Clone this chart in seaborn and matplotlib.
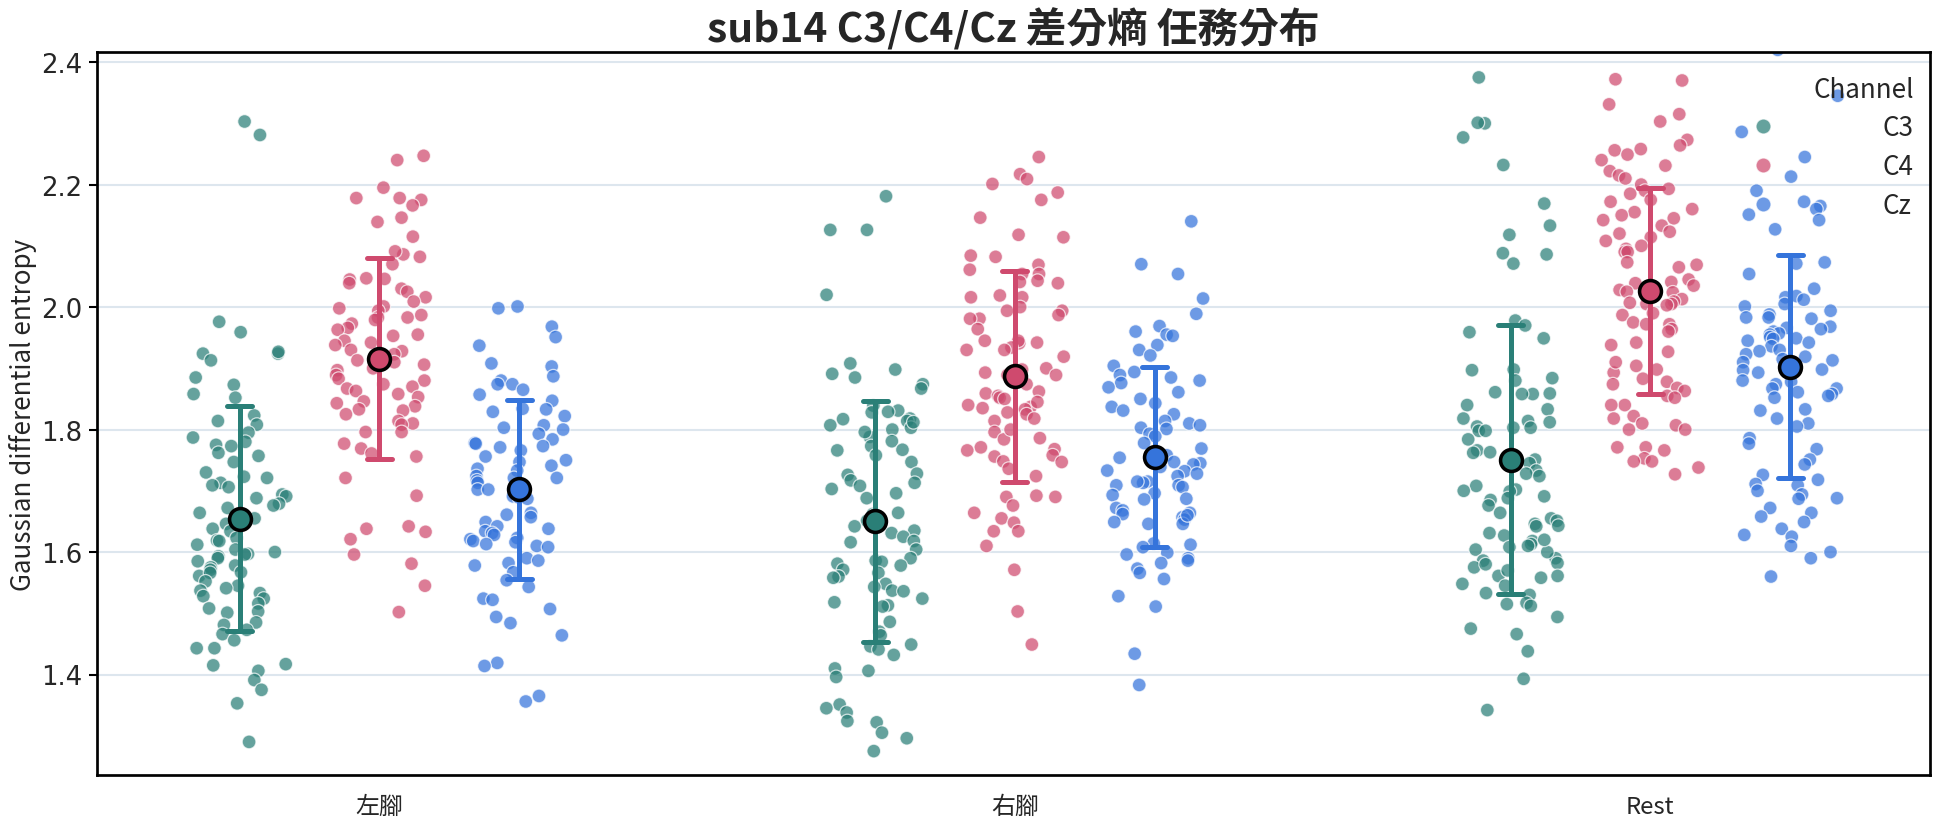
import numpy as np
import pandas as pd
import matplotlib
matplotlib.use("Agg")
import matplotlib.pyplot as plt
from matplotlib.lines import Line2D
from matplotlib import font_manager
import seaborn as sns

# ---------------- data ----------------
tasks = ["左腳", "右腳", "Rest"]
channels = ["C3", "C4", "Cz"]
colors = ["#2a7f77", "#cf4a6e", "#3574db"]
yticks = [1.4, 1.6, 1.8, 2.0, 2.2, 2.4]

left_c3 = [2.303, 2.281, 1.976, 1.959, 1.924, 1.927, 1.924, 1.913, 1.885, 1.873, 1.858, 1.852,
           1.823, 1.814, 1.808, 1.795, 1.787, 1.780, 1.775, 1.773, 1.762, 1.757, 1.747, 1.730,
           1.723, 1.721, 1.713, 1.709, 1.706, 1.694, 1.691, 1.688, 1.679, 1.676, 1.672, 1.664,
           1.655, 1.649, 1.646, 1.638, 1.634, 1.623, 1.619, 1.618, 1.604, 1.600, 1.597, 1.593,
           1.590, 1.578, 1.575, 1.571, 1.567, 1.561, 1.545, 1.541, 1.533, 1.524, 1.516, 1.503,
           1.501, 1.485, 1.481, 1.473, 1.466, 1.456, 1.443, 1.443, 1.417, 1.415, 1.406, 1.391,
           1.375, 1.353, 1.290, 1.612, 1.585, 1.566, 1.552, 1.537, 1.528, 1.596, 1.508]
left_c4 = [2.247, 2.240, 2.195, 2.178, 2.178, 2.175, 2.166, 2.146, 2.139, 2.115, 2.086, 2.091,
           2.082, 2.070, 2.047, 2.046, 2.045, 2.039, 2.030, 2.025, 2.016, 2.009, 2.001, 1.998,
           1.994, 1.987, 1.983, 1.983, 1.979, 1.973, 1.966, 1.963, 1.955, 1.953, 1.945, 1.942,
           1.938, 1.930, 1.928, 1.923, 1.921, 1.913, 1.910, 1.906, 1.900, 1.897, 1.889, 1.883,
           1.880, 1.874, 1.870, 1.867, 1.863, 1.858, 1.853, 1.846, 1.843, 1.838, 1.833, 1.831,
           1.825, 1.814, 1.810, 1.808, 1.796, 1.796, 1.777, 1.769, 1.761, 1.756, 1.721, 1.692,
           1.642, 1.633, 1.638, 1.621, 1.596, 1.581, 1.545, 1.502]
left_cz = [2.001, 1.998, 1.968, 1.951, 1.937, 1.908, 1.903, 1.887, 1.880, 1.874, 1.874, 1.865,
           1.857, 1.847, 1.834, 1.833, 1.829, 1.822, 1.807, 1.803, 1.800, 1.793, 1.784, 1.778,
           1.777, 1.773, 1.771, 1.766, 1.756, 1.750, 1.747, 1.741, 1.736, 1.733, 1.724, 1.721,
           1.721, 1.717, 1.713, 1.706, 1.702, 1.702, 1.691, 1.689, 1.687, 1.664, 1.661, 1.657,
           1.649, 1.642, 1.638, 1.634, 1.631, 1.628, 1.623, 1.621, 1.618, 1.616, 1.613, 1.610,
           1.608, 1.590, 1.586, 1.582, 1.578, 1.567, 1.554, 1.543, 1.524, 1.522, 1.507, 1.494,
           1.484, 1.464, 1.419, 1.414, 1.365, 1.356]
right_c3 = [2.181, 2.126, 2.126, 2.020, 1.908, 1.898, 1.891, 1.885, 1.874, 1.867, 1.839, 1.831,
            1.829, 1.828, 1.818, 1.817, 1.814, 1.807, 1.803, 1.800, 1.788, 1.781, 1.773, 1.767,
            1.766, 1.758, 1.747, 1.728, 1.726, 1.717, 1.713, 1.708, 1.703, 1.696, 1.688, 1.664,
            1.662, 1.661, 1.651, 1.642, 1.635, 1.631, 1.625, 1.618, 1.616, 1.604, 1.590, 1.586,
            1.584, 1.581, 1.578, 1.571, 1.566, 1.560, 1.558, 1.548, 1.543, 1.537, 1.536, 1.524,
            1.518, 1.513, 1.511, 1.486, 1.470, 1.464, 1.449, 1.446, 1.441, 1.432, 1.410, 1.406,
            1.396, 1.351, 1.345, 1.338, 1.324, 1.322, 1.305, 1.296, 1.275, 1.812, 1.796]
right_c4 = [2.245, 2.217, 2.209, 2.201, 2.187, 2.175, 2.146, 2.118, 2.114, 2.084, 2.082, 2.069,
            2.061, 2.054, 2.054, 2.043, 2.041, 2.039, 2.019, 2.016, 2.016, 2.000, 1.994, 1.994,
            1.987, 1.981, 1.981, 1.964, 1.945, 1.942, 1.941, 1.945, 1.934, 1.930, 1.930, 1.919,
            1.900, 1.898, 1.893, 1.889, 1.889, 1.874, 1.859, 1.855, 1.852, 1.850, 1.840, 1.837,
            1.835, 1.833, 1.825, 1.818, 1.814, 1.796, 1.786, 1.784, 1.771, 1.768, 1.766, 1.758,
            1.756, 1.748, 1.747, 1.736, 1.724, 1.690, 1.690, 1.692, 1.676, 1.664, 1.655, 1.648,
            1.634, 1.634, 1.610, 1.571, 1.503, 1.449, 1.862, 1.845, 1.828, 1.800]
right_cz = [2.140, 2.070, 2.054, 2.014, 1.989, 1.969, 1.960, 1.955, 1.953, 1.938, 1.930, 1.921,
            1.904, 1.894, 1.889, 1.885, 1.880, 1.876, 1.869, 1.861, 1.850, 1.843, 1.837, 1.831,
            1.825, 1.814, 1.810, 1.807, 1.803, 1.801, 1.793, 1.789, 1.778, 1.769, 1.758, 1.754,
            1.747, 1.745, 1.743, 1.739, 1.733, 1.732, 1.728, 1.724, 1.715, 1.713, 1.709, 1.709,
            1.706, 1.696, 1.693, 1.687, 1.686, 1.672, 1.668, 1.664, 1.662, 1.657, 1.653, 1.649,
            1.646, 1.646, 1.614, 1.612, 1.608, 1.599, 1.596, 1.590, 1.586, 1.582, 1.573, 1.566,
            1.556, 1.528, 1.511, 1.434, 1.383, 1.715, 1.660]
rest_c3 = [2.375, 2.300, 2.301, 2.277, 2.232, 2.169, 2.133, 2.118, 2.088, 2.086, 2.071, 1.978,
           1.970, 1.959, 1.949, 1.897, 1.898, 1.884, 1.880, 1.861, 1.858, 1.859, 1.858, 1.840,
           1.833, 1.818, 1.814, 1.812, 1.805, 1.803, 1.803, 1.798, 1.798, 1.784, 1.766, 1.762,
           1.763, 1.751, 1.745, 1.733, 1.728, 1.724, 1.708, 1.702, 1.700, 1.699, 1.691, 1.688,
           1.685, 1.676, 1.664, 1.655, 1.651, 1.646, 1.643, 1.642, 1.631, 1.627, 1.618, 1.613,
           1.610, 1.608, 1.604, 1.590, 1.586, 1.582, 1.575, 1.561, 1.561, 1.558, 1.548, 1.545,
           1.533, 1.530, 1.517, 1.515, 1.512, 1.494, 1.475, 1.466, 1.438, 1.393, 1.342, 1.600,
           1.580, 1.620, 1.570]
rest_c4 = [2.372, 2.370, 2.331, 2.315, 2.303, 2.273, 2.264, 2.258, 2.256, 2.249, 2.240, 2.231,
           2.222, 2.215, 2.210, 2.200, 2.193, 2.190, 2.175, 2.172, 2.155, 2.150, 2.145, 2.142,
           2.133, 2.123, 2.114, 2.108, 2.095, 2.090, 2.090, 2.073, 2.069, 2.065, 2.045, 2.041,
           2.039, 2.035, 2.031, 2.028, 2.024, 2.025, 2.013, 2.009, 2.007, 2.005, 2.005, 2.003,
           1.990, 1.987, 1.975, 1.972, 1.972, 1.964, 1.960, 1.942, 1.938, 1.927, 1.904, 1.898,
           1.893, 1.910, 1.883, 1.878, 1.874, 1.868, 1.863, 1.855, 1.852, 1.840, 1.840, 1.822,
           1.818, 1.810, 1.807, 1.800, 1.800, 1.771, 1.771, 1.766, 1.753, 1.748, 1.748, 1.738,
           1.727, 2.185, 2.160, 2.120, 2.100]
rest_cz = [2.420, 2.345, 2.286, 2.245, 2.213, 2.190, 2.172, 2.165, 2.160, 2.151, 2.142, 2.127,
           2.073, 2.071, 2.054, 2.030, 2.018, 2.016, 2.012, 2.005, 2.001, 1.994, 1.988, 1.983,
           1.983, 1.981, 1.968, 1.966, 1.964, 1.960, 1.957, 1.955, 1.951, 1.949, 1.948, 1.945,
           1.942, 1.936, 1.930, 1.928, 1.923, 1.919, 1.915, 1.913, 1.910, 1.898, 1.897, 1.893,
           1.880, 1.878, 1.874, 1.867, 1.867, 1.861, 1.858, 1.855, 1.852, 1.833, 1.831, 1.818,
           1.810, 1.805, 1.786, 1.777, 1.768, 1.751, 1.743, 1.726, 1.718, 1.709, 1.711, 1.700,
           1.694, 1.688, 1.687, 1.672, 1.664, 1.658, 1.649, 1.638, 1.628, 1.625, 1.610, 1.600,
           1.590, 1.560]

# ---------------- table ----------------
groups = {
    ("左腳", "C3"): left_c3, ("左腳", "C4"): left_c4, ("左腳", "Cz"): left_cz,
    ("右腳", "C3"): right_c3, ("右腳", "C4"): right_c4, ("右腳", "Cz"): right_cz,
    ("Rest", "C3"): rest_c3, ("Rest", "C4"): rest_c4, ("Rest", "Cz"): rest_cz,
}
rows = []
for t in tasks:
    for c in channels:
        for v in groups[(t, c)]:
            rows.append((t, c, v))
df = pd.DataFrame(rows, columns=["Task", "Channel", "entropy"])
offset = dict(zip(channels, [-0.22, 0.0, 0.22]))
df["pos"] = (df["Task"].map({t: i for i, t in enumerate(tasks)}) + df["Channel"].map(offset)).round(3)

# ---------------- style ----------------
sns.set_style("white")
plt.rcParams["font.family"] = ["Noto Sans CJK TC", "DejaVu Sans"]
plt.rcParams["axes.unicode_minus"] = False

fig, ax = plt.subplots(figsize=(12.96, 5.513), dpi=150)
fig.subplots_adjust(left=0.0497, right=0.9928, bottom=0.0617, top=0.9356)

pt_alpha = 0.72
pt_size = 6.6
np.random.seed(3)
sns.stripplot(data=df, x="pos", y="entropy", hue="Channel", hue_order=channels,
              palette=colors, native_scale=True, orient="x", jitter=0.35,
              size=pt_size, alpha=pt_alpha, edgecolor="white", linewidth=0.6,
              ax=ax, zorder=2, legend=False)
sns.pointplot(data=df, x="pos", y="entropy", hue="Channel", hue_order=channels,
              palette=colors, native_scale=True, orient="x", errorbar="sd",
              estimator="mean", linestyle="none", marker="o", markersize=10.5,
              markeredgecolor="black", markeredgewidth=1.7, capsize=0.18,
              err_kws={"linewidth": 2.4, "linestyle": "-", "zorder": 3},
              legend=False, ax=ax, zorder=4)

ax.set_xlim(-0.445, 2.44)
ax.set_ylim(1.236, 2.416)
ax.set_xticks([0, 1, 2])
ax.set_xticklabels(tasks, fontsize=11.5)
dejavu = font_manager.FontProperties(fname=font_manager.findfont("DejaVu Sans"), size=12.5)
ax.set_yticks(yticks)
ax.set_yticklabels([f"{v:.1f}" for v in yticks], fontproperties=dejavu)
ax.set_xlabel("")
ax.set_ylabel("Gaussian differential entropy", fontsize=12.5, labelpad=2)
ax.set_axisbelow(True)
ax.yaxis.grid(True, color="#dde6ee", linewidth=1.0)
ax.xaxis.grid(False)
for s in ax.spines.values():
    s.set_color("black")
    s.set_linewidth(1.3)
ax.tick_params(axis="y", left=True, length=4, width=1, color="black", pad=3)
ax.tick_params(axis="x", bottom=False, pad=6)
ax.set_title("sub14 C3/C4/Cz 差分熵 任務分布", fontsize=19.5, fontweight="bold", pad=5)

handles = [Line2D([], [], linestyle="none", marker="o", markersize=pt_size + 0.6,
                  markerfacecolor=c, markeredgecolor="white", markeredgewidth=0.6,
                  alpha=pt_alpha) for c in colors]
leg = ax.legend(handles, channels, title="Channel", loc="upper right",
                bbox_to_anchor=(1.004, 1.0), frameon=False, fontsize=12.5,
                title_fontsize=12.5, handletextpad=3.6, handlelength=2.0,
                labelspacing=0.45, alignment="right")
leg.set_zorder(6)

fig.savefig("out.png", dpi=150)
